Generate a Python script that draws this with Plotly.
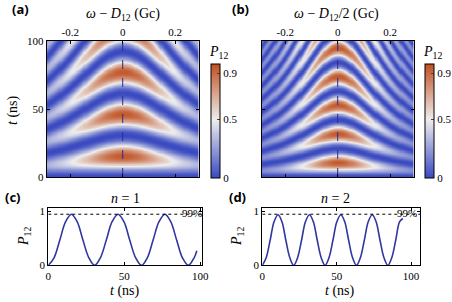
import numpy as np
import plotly.graph_objects as go

W, H = 452, 302

# ---------------- data ----------------
# heatmap grids (detuning in Gc, time in ns)
detuning = np.linspace(-0.29, 0.29, 147)
time_ns = np.linspace(0, 100, 251)
# parameters read from the chevrons: centre Rabi period (ns), peak P12, photon number n
rabi_period = [30.8, 21.1]
peak_p = [0.95, 0.95]
photon_n = [1, 2]

# line cut (c), n = 1
t_c = [0, 3.8, 7.6, 11.4, 15.2, 19.0, 22.8, 26.7, 30.5,
       34.3, 38.2, 42.0, 45.9, 49.8, 53.6, 57.5, 61.3,
       65.2, 69.0, 72.9, 76.8, 80.6, 84.5, 88.3, 92.2,
       96.0, 97.8]
p_c = [0, 0.14, 0.47, 0.81, 0.95, 0.81, 0.47, 0.14, 0,
       0.14, 0.47, 0.81, 0.95, 0.81, 0.47, 0.14, 0,
       0.14, 0.47, 0.81, 0.95, 0.81, 0.47, 0.14, 0,
       0.14, 0.27]
# line cut (d), n = 2
t_d = [0, 2.6, 5.3, 7.9, 10.6, 13.2, 15.8, 18.5, 21.1,
       23.7, 26.4, 29.0, 31.7, 34.3, 36.9, 39.6, 42.2,
       44.8, 47.5, 50.1, 52.8, 55.4, 58.0, 60.7, 63.3,
       65.9, 68.6, 71.2, 73.9, 76.5, 79.1, 81.8, 84.4,
       87.0, 89.7, 92.3, 94.5]
p_d = [0, 0.14, 0.47, 0.81, 0.94, 0.81, 0.47, 0.14, 0,
       0.14, 0.47, 0.81, 0.94, 0.81, 0.47, 0.14, 0,
       0.14, 0.47, 0.81, 0.94, 0.81, 0.47, 0.14, 0,
       0.14, 0.47, 0.81, 0.94, 0.81, 0.47, 0.14, 0,
       0.14, 0.47, 0.81, 0.87]
threshold = 0.95
threshold_label = "99%"
xticks_top = [-0.2, 0, 0.2]
xticks_top_text = ["-0.2", "0", "0.2"]
cbar_ticks = [0, 0.5, 0.9]


def chevron(period, amp, n):
    om = 2 * np.pi / period
    d = n * detuning[None, :]
    oe = np.sqrt(om ** 2 + d ** 2)
    return amp * om ** 2 / oe ** 2 * np.sin(oe * time_ns[:, None] / 2) ** 2


def px(x):
    return x / W


def py(y):
    return 1 - y / H


SERIF = "Liberation Serif"
SANS = "Noto Sans"
cs = [[0, "rgb(58,74,192)"], [0.51, "rgb(238,238,238)"], [1, "rgb(192,80,32)"]]

fig = go.Figure()

dom_x = [[px(46.7), px(198.7)], [px(261.7), px(413.7)]]
dom_y_heat = [py(177), py(41)]
cb_x = [px(211), px(425)]

for i in range(2):
    z = chevron(rabi_period[i], peak_p[i], photon_n[i])
    xa = "x" if i == 0 else "x2"
    ya = "y" if i == 0 else "y2"
    fig.add_trace(go.Heatmap(
        x=detuning, y=time_ns, z=z, xaxis=xa, yaxis=ya,
        zmin=0, zmax=0.98, colorscale=cs, zsmooth="best",
        colorbar=dict(x=cb_x[i], xanchor="left", xpad=0, ypad=0,
                      y=py(177.7), yanchor="bottom", len=113.7 / H, lenmode="fraction",
                      thickness=9, outlinewidth=1, outlinecolor="black",
                      tickvals=cbar_ticks, ticks="inside", ticklen=3,
                      tickfont=dict(family=SERIF, size=11, color="black")),
        showscale=True))
    fig.add_trace(go.Scatter(x=[0, 0], y=[0, 100], mode="lines", xaxis=xa, yaxis=ya,
                             line=dict(color="rgb(40,45,150)", width=1, dash="dash"),
                             showlegend=False, hoverinfo="skip"))

fig.add_trace(go.Scatter(x=t_c, y=p_c, mode="lines", xaxis="x3", yaxis="y3",
                         line=dict(color="rgb(48,55,160)", width=1.6, shape="spline"),
                         showlegend=False))
fig.add_trace(go.Scatter(x=t_d, y=p_d, mode="lines", xaxis="x4", yaxis="y4",
                         line=dict(color="rgb(48,55,160)", width=1.6, shape="spline"),
                         showlegend=False))
for xa, ya, xr in [("x3", "y3", 101), ("x4", "y4", 106)]:
    fig.add_trace(go.Scatter(x=[0, xr], y=[threshold, threshold], mode="lines",
                             xaxis=xa, yaxis=ya,
                             line=dict(color="black", width=1, dash="dot"),
                             showlegend=False, hoverinfo="skip"))

tickfont = dict(family=SERIF, size=11, color="black")
common = dict(showline=True, linecolor="black", linewidth=1, ticks="inside", ticklen=3,
              tickcolor="black", mirror="ticks", showgrid=False, zeroline=False,
              tickfont=tickfont)

fig.update_layout(
    width=W, height=H, margin=dict(l=0, r=0, t=0, b=0, autoexpand=False),
    paper_bgcolor="white", plot_bgcolor="white", showlegend=False,
    xaxis=dict(domain=dom_x[0], range=[-0.29, 0.29], side="top", anchor="y",
               tickvals=xticks_top, ticktext=xticks_top_text, **common),
    yaxis=dict(domain=dom_y_heat, range=[0, 100], anchor="x",
               tickvals=[0, 50, 100], **common),
    xaxis2=dict(domain=dom_x[1], range=[-0.29, 0.29], side="top", anchor="y2",
                tickvals=xticks_top, ticktext=xticks_top_text, **common),
    yaxis2=dict(domain=dom_y_heat, range=[0, 100], anchor="x2",
                tickvals=[50], showticklabels=False, **common),
    xaxis3=dict(domain=[px(48.3), px(201.7)], range=[0, 101], anchor="y3",
                tickvals=[0, 50, 100], **common),
    yaxis3=dict(domain=[py(265.3), py(208.3)], range=[0, 1.06], anchor="x3",
                tickvals=[0, 1], **common),
    xaxis4=dict(domain=[px(262.3), px(420)], range=[0, 106], anchor="y4",
                tickvals=[0, 50, 100], **common),
    yaxis4=dict(domain=[py(265.3), py(208.3)], range=[0, 1.06], anchor="x4",
                tickvals=[0, 1], **common),
)

ann = []


def add(text, x, y, size=14, family=SERIF, angle=0, xanchor="center"):
    ann.append(dict(text=text, x=px(x), y=py(y), xref="paper", yref="paper",
                    showarrow=False, xanchor=xanchor, yanchor="middle", textangle=angle,
                    font=dict(family=family, size=size, color="black")))


for lab, x, y in [("(a)", 10, 9), ("(b)", 230, 9), ("(c)", 3, 197), ("(d)", 227, 197)]:
    add("<b>%s</b>" % lab, x, y, size=13, family=SANS, xanchor="left")

add("<i>ω</i> − <i>D</i><sub>12</sub> (Gc)", 123, 14)
add("<i>ω</i> − <i>D</i><sub>12</sub>/2 (Gc)", 336, 14)
add("<i>P</i><sub>12</sub>", 218, 52)
add("<i>P</i><sub>12</sub>", 432, 52)
add("<i>t</i> (ns)", 13, 110, angle=-90)
add("<i>n</i> = 1", 125, 198)
add("<i>n</i> = 2", 335, 198)
add("<i>P</i><sub>12</sub>", 24, 237, angle=-90)
add("<i>P</i><sub>12</sub>", 237, 237, angle=-90)
add("<i>t</i> (ns)", 125, 291)
add("<i>t</i> (ns)", 340, 291)
add(threshold_label, 204, 213, size=11, xanchor="right")
add(threshold_label, 419, 213, size=11, xanchor="right")

fig.update_layout(annotations=ann)
fig.write_html("out.html", config={"displayModeBar": False},
               post_script="document.body.style.margin='0';document.body.style.overflow='hidden';")
